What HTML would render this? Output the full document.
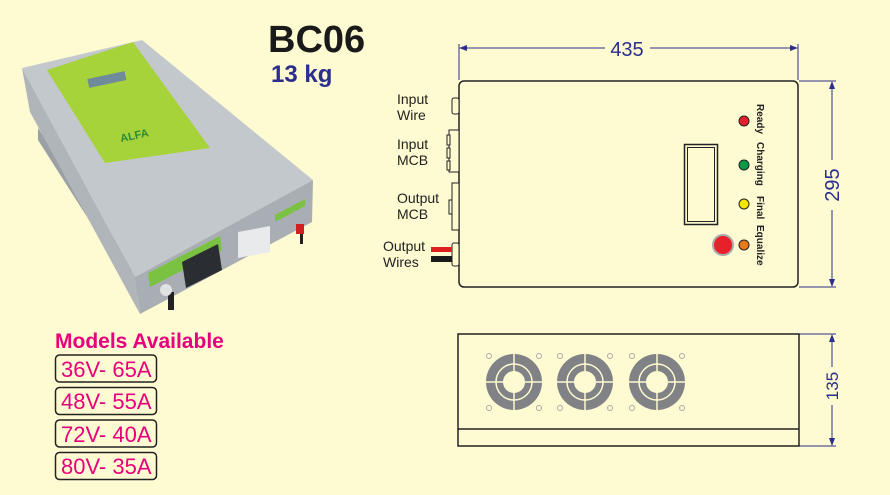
<!DOCTYPE html>
<html><head><meta charset="utf-8"><style>
html,body{margin:0;padding:0;background:#fefad2;}
svg{display:block;font-family:"Liberation Sans",sans-serif;}
</style></head><body>
<svg width="890" height="495" viewBox="0 0 890 495" xmlns="http://www.w3.org/2000/svg">
<rect width="890" height="495" fill="#fefad2"/>
<!-- photo -->
<polygon points="38,128 135,270 140,300 38,140" fill="#9aa0a6"/>
<polygon points="22,68 142,40 313,180 135,277" fill="#c3c8cd"/>
<polygon points="135,277 313,180 312,222 140,314" fill="#a9aeb4"/>
<polygon points="22,68 135,277 140,314 30,112" fill="#b0b5ba"/>
<polygon points="47,70 133,42 210,148 105,163" fill="#a6d23a"/>
<rect x="88" y="75" width="38" height="9" fill="#6f8a9a" transform="rotate(-12 107 80)"/>
<text x="120" y="138" font-size="11" font-weight="bold" fill="#2a8a3a" transform="rotate(-12 140 135)">ALFA</text>
<polygon points="148,273 220,236 222,250 150,287" fill="#7cc242"/>
<polygon points="182,262 218,244 222,270 186,288" fill="#2a2e33"/>
<polygon points="238,232 270,226 270,252 238,258" fill="#e8eaec"/>
<polygon points="275,215 305,199 305,206 275,222" fill="#7cc242"/>
<rect x="296" y="224" width="8" height="10" fill="#d02020"/>
<rect x="300" y="234" width="3" height="10" fill="#222"/>
<rect x="168" y="292" width="6" height="18" fill="#222"/>
<circle cx="166" cy="290" r="6" fill="#dfe1e3"/>
<!-- titles -->
<text x="268" y="52" font-size="38" font-weight="bold" fill="#1a1a1a">BC06</text>
<text x="271" y="82" font-size="24" font-weight="bold" fill="#2b2e8c">13 kg</text>
<!-- models -->
<text x="55" y="348" font-size="21" font-weight="bold" fill="#e6007e">Models Available</text>
<g fill="none" stroke="#222" stroke-width="1.5">
<rect x="55.5" y="355" width="101" height="27" rx="4"/>
<rect x="55.5" y="387.5" width="101" height="27" rx="4"/>
<rect x="55.5" y="420" width="101" height="27" rx="4"/>
<rect x="55.5" y="452.5" width="101" height="27" rx="4"/>
</g>
<g font-size="22" fill="#e6007e">
<text x="61" y="377">36V- 65A</text>
<text x="61" y="409">48V- 55A</text>
<text x="61" y="442">72V- 40A</text>
<text x="61" y="474">80V- 35A</text>
</g>
<!-- top view -->
<g stroke="#2b2e8c" stroke-width="1" fill="#2b2e8c">
<line x1="459" y1="44" x2="459" y2="80"/><line x1="798" y1="44" x2="798" y2="80"/>
<line x1="462" y1="48" x2="605" y2="48"/><line x1="650" y1="48" x2="795" y2="48"/>
<polygon points="459,48 467,45 467,51" stroke="none"/><polygon points="798,48 790,45 790,51" stroke="none"/>
<line x1="799" y1="81" x2="836" y2="81"/><line x1="799" y1="287" x2="836" y2="287"/>
<line x1="832" y1="84" x2="832" y2="160"/><line x1="832" y1="210" x2="832" y2="284"/>
<polygon points="832,81 829,89 835,89" stroke="none"/><polygon points="832,287 829,279 835,279" stroke="none"/>
<line x1="832" y1="337" x2="832" y2="367"/><line x1="832" y1="405" x2="832" y2="443"/>
<line x1="799" y1="334" x2="836" y2="334"/><line x1="799" y1="446" x2="836" y2="446"/>
<polygon points="832,334 829,342 835,342" stroke="none"/><polygon points="832,446 829,438 835,438" stroke="none"/>
</g>
<text x="627" y="56" font-size="20" fill="#2b2e8c" text-anchor="middle">435</text>
<text x="0" y="0" font-size="20" fill="#2b2e8c" text-anchor="middle" transform="translate(839,185) rotate(-90)">295</text>
<text x="0" y="0" font-size="17" fill="#2b2e8c" text-anchor="middle" transform="translate(838,386) rotate(-90)">135</text>
<rect x="459" y="81" width="339" height="206" rx="5" fill="#fefad2" stroke="#222" stroke-width="1.5"/>
<g fill="#fefad2" stroke="#222" stroke-width="1">
<rect x="452" y="98" width="7" height="16" rx="2"/>
<rect x="449" y="130" width="10" height="42"/>
<rect x="447" y="135" width="3" height="10"/><rect x="447" y="148" width="3" height="10"/><rect x="447" y="161" width="3" height="9"/>
<rect x="452" y="183" width="7" height="47"/>
<rect x="449" y="200" width="3" height="14"/>
<rect x="452" y="243" width="7" height="23" rx="2"/>
</g>
<rect x="431" y="247" width="21" height="5" fill="#e02020"/>
<rect x="431" y="256" width="21" height="6" fill="#1a1a1a"/>
<g font-size="14" fill="#222">
<text x="397" y="104">Input</text><text x="397" y="120">Wire</text>
<text x="397" y="149">Input</text><text x="397" y="165">MCB</text>
<text x="397" y="203">Output</text><text x="397" y="219">MCB</text>
<text x="383" y="251">Output</text><text x="383" y="267">Wires</text>
</g>
<rect x="684.5" y="144.5" width="33" height="80" fill="none" stroke="#222" stroke-width="1.5"/>
<rect x="687.5" y="147.5" width="27" height="74" fill="none" stroke="#222" stroke-width="1"/>
<g stroke="#222" stroke-width="1">
<circle cx="744" cy="121" r="5" fill="#e8202a"/>
<circle cx="744" cy="165" r="5" fill="#0a9a4a"/>
<circle cx="744" cy="204" r="5" fill="#f5e600"/>
<circle cx="744" cy="245" r="5" fill="#e87a1a"/>
</g>
<circle cx="723" cy="245" r="10" fill="#e8202a" stroke="#aaa" stroke-width="2"/>
<g font-size="10" font-weight="bold" fill="#222">
<text transform="translate(757,104) rotate(90)">Ready</text>
<text transform="translate(757,142) rotate(90)">Charging</text>
<text transform="translate(757,196) rotate(90)">Final</text>
<text transform="translate(757,225) rotate(90)">Equalize</text>
</g>
<!-- side view -->
<rect x="458" y="334" width="341" height="112" fill="#fefad2" stroke="#222" stroke-width="1.5"/>
<line x1="458" y1="429" x2="799" y2="429" stroke="#222" stroke-width="1.5"/>
<defs>
<g id="fan">
<circle r="28" fill="#808285"/>
<circle r="18" fill="none" stroke="#fefad2" stroke-width="1.5"/>
<line x1="-28" y1="0" x2="28" y2="0" stroke="#fefad2" stroke-width="1.5"/>
<line x1="0" y1="-28" x2="0" y2="28" stroke="#fefad2" stroke-width="1.5"/>
<circle r="11" fill="#fefad2"/>
<g fill="#fefad2" stroke="#aaa" stroke-width="1">
<circle cx="-25" cy="-26" r="2.5"/><circle cx="25" cy="-26" r="2.5"/>
<circle cx="-25" cy="26" r="2.5"/><circle cx="25" cy="26" r="2.5"/>
</g>
</g>
</defs>
<use href="#fan" x="514" y="382"/>
<use href="#fan" x="585" y="382"/>
<use href="#fan" x="657" y="382"/>
</svg>
</body></html>
